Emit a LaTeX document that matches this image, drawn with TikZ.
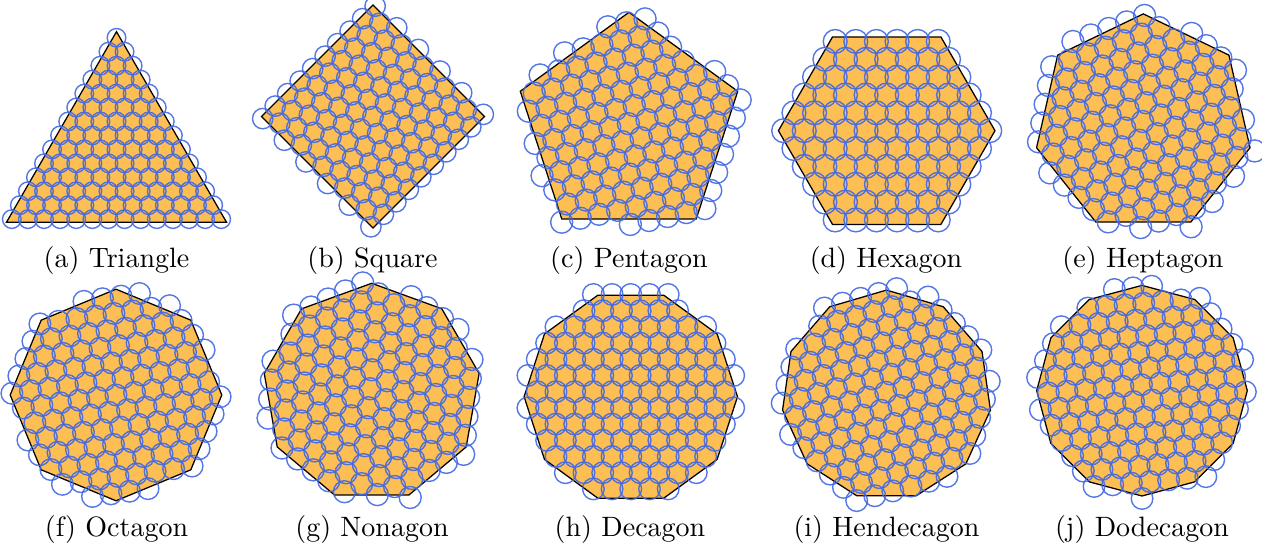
\documentclass[tikz,border=0pt]{standalone}
\usepackage{xcolor}
\usepackage{tikz}
\usetikzlibrary{positioning}
\definecolor{polyc}{RGB}{253,191,84}
\definecolor{ringc}{RGB}{66,104,226}

\tikzset{
  polyedge/.style={draw=black,fill=polyc,line width=0.45pt},
  ring/.style={draw=ringc,line width=0.5pt,draw opacity=0.9},
  caption/.style={anchor=base,inner sep=0pt,font=\normalsize}
}

% #1,#2 centre, #3 sides, #4 circumradius, #5 first vertex angle,
% #6 ring radius, #7 lattice angle, #8 margin past the edges, #9 lattice shift
\newcommand\coverpoly[9]{%
  \begin{scope}[shift={(#1,#2)}]
    \pgfmathtruncatemacro\plast{#3-1}
    \draw[polyedge] (#5:#4) \foreach \k in {1,...,\plast}{ -- (#5+360*\k/#3:#4) } -- cycle;
    \pgfmathsetmacro\dd{#6*sqrt(3)}
    \pgfmathsetmacro\lim{#4*cos(180/#3)+#8}
    \pgfmathsetmacro\phz{#5+180/#3}
    \foreach \i in {-15,...,15}{
      \foreach \j in {-10,...,10}{
        \pgfmathsetmacro\ux{\dd*(\i+0.5*\j)}
        \pgfmathsetmacro\uy{\dd*0.8660254*\j+#9}
        \pgfmathsetmacro\px{\ux*cos(#7)-\uy*sin(#7)}
        \pgfmathsetmacro\py{\ux*sin(#7)+\uy*cos(#7)}
        \pgfmathtruncatemacro\far{veclen(\px,\py)>#4+#8}
        \ifnum\far=0
          \gdef\pin{1}
          \foreach \k in {1,...,#3}{
            \pgfmathtruncatemacro\out{\px*cos(\phz+360*\k/#3)+\py*sin(\phz+360*\k/#3)>\lim}
            \ifnum\out=1 \gdef\pin{0}\fi
          }
          \ifnum\pin=1 \draw[ring] (\px,\py) circle[radius=#6]; \fi
        \fi
      }
    }
  \end{scope}}

\begin{document}
\begin{tikzpicture}[x=0.3571pt,y=0.3571pt]
  \useasboundingbox (0,0) rectangle (1262,552);
  % top row
  \coverpoly{116.5}{393.3}{3}{127}{90}{9.3}{0}{2}{9.3}
  \coverpoly{373}{435.5}{4}{111.5}{90}{10.2}{45}{3}{0}
  \coverpoly{629}{425.4}{5}{114.3}{90}{11}{12}{6}{3}
  \coverpoly{886.7}{421.3}{6}{108.3}{0}{11.9}{0}{3}{0}
  \coverpoly{1143.3}{428.6}{7}{109.5}{90}{11}{20}{6}{2}
  % bottom row
  \coverpoly{116}{157}{8}{105.8}{90}{10.8}{8}{5.5}{0}
  \coverpoly{371.7}{159.6}{9}{109.1}{90}{11}{25}{5.5}{4}
  \coverpoly{630.8}{155.3}{10}{106.7}{0}{10.8}{0}{5}{5}
  \coverpoly{886.5}{156.9}{11}{105}{90}{10.8}{15}{5.5}{3}
  \coverpoly{1142}{161.3}{12}{105.3}{90}{10.8}{5}{5.5}{6}
  % captions
  \node[caption] (capa) at (116.5,284.4) {(a) Triangle};
  \node[caption] (capb) at (372.5,284.4) {(b) Square};
  \node[caption] (capc) at (629,284.4) {(c) Pentagon};
  \node[caption] (capd) at (886,284.4) {(d) Hexagon};
  \node[caption] (cape) at (1143,284.4) {(e) Heptagon};
  \node[caption] (capf) at (116.5,15.4) {(f) Octagon};
  \node[caption] (capg) at (372,15.4) {(g) Nonagon};
  \node[caption] (caph) at (630,15.4) {(h) Decagon};
  \node[caption] (capi) at (886.5,15.4) {(i) Hendecagon};
  \node[caption] (capj) at (1142,15.4) {(j) Dodecagon};
\end{tikzpicture}
\end{document}
